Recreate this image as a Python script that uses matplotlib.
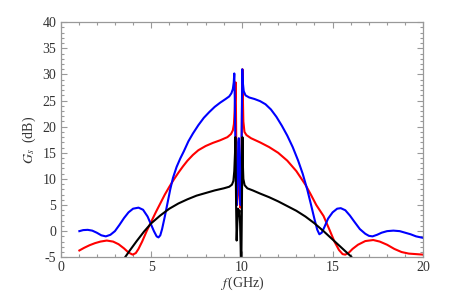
import matplotlib
matplotlib.use('Agg')
import matplotlib.pyplot as plt
from matplotlib.ticker import MultipleLocator

# Signal gain G_s (dB) vs frequency f (GHz), three pump settings
f_blue = [1.04, 1.25, 1.5, 1.75, 2.0, 2.25, 2.5, 2.75, 3.0, 3.25, 3.5, 3.75, 4.0, 4.3,
          4.55, 4.8, 5.0, 5.15, 5.3, 5.4, 5.5, 5.6, 5.75, 5.9, 6.05, 6.2, 6.4, 6.6,
          6.8, 7.05, 7.3, 7.6, 7.9, 8.2, 8.5, 8.8, 9.1, 9.3, 9.42, 9.5, 9.55, 9.58,
          9.61, 9.65, 9.69, 9.72, 9.76, 9.8, 9.83, 9.86, 9.89, 9.93, 9.96, 9.99,
          10.02, 10.05, 10.1, 10.2, 10.4, 10.7, 11.0, 11.3, 11.6, 11.9, 12.2, 12.5,
          12.8, 13.1, 13.35, 13.6, 13.8, 14.0, 14.15, 14.27, 14.4, 14.55, 14.75,
          15.0, 15.25, 15.45, 15.7, 15.95, 16.2, 16.5, 16.8, 17.0, 17.2, 17.45,
          17.7, 18.0, 18.35, 18.7, 19.0, 19.3, 19.6, 20.0]
g_blue = [0.0, 0.2, 0.25, 0.1, -0.3, -0.8, -1.0, -0.7, 0.0, 1.2, 2.5, 3.6, 4.3, 4.5,
          4.1, 2.8, 1.2, 0.0, -1.0, -1.2, -0.8, 0.4, 2.8, 5.4, 8.0, 10.2, 12.3, 13.9,
          15.3, 17.2, 18.7, 20.3, 21.7, 22.8, 23.8, 24.6, 25.3, 25.8, 26.4, 27.2, 28.5, 30.2,
          25.0, 14.0, 6.0, 5.0, 10.0, 17.0, 17.8, 14.0, 7.0, 5.0, 9.0, 20.0,
          31.0, 28.5, 26.8, 26.0, 25.6, 25.3, 24.9, 24.3, 23.3, 21.9, 20.2, 18.3,
          16.1, 13.5, 11.0, 8.0, 5.2, 2.3, 0.3, -0.6, -0.3, 0.8, 2.4,
          3.6, 4.3, 4.4, 4.0, 3.0, 1.8, 0.4, -0.5, -0.9, -1.0, -0.7,
          -0.3, 0.0, 0.1, 0.0, -0.3, -0.6, -1.0, -1.3]

f_red = [1.04, 1.3, 1.6, 1.9, 2.2, 2.55, 2.9, 3.2, 3.5, 3.75, 3.98, 4.15, 4.3, 4.5,
         4.75, 5.0, 5.25, 5.5, 5.75, 6.0, 6.25, 6.5, 6.75, 7.0, 7.3, 7.6, 8.0, 8.4,
         8.8, 9.2, 9.4, 9.5, 9.56, 9.6, 9.63, 9.65, 9.67, 9.7, 9.73, 9.77, 9.82,
         9.87, 9.91, 9.95, 9.98, 10.0, 10.03, 10.05, 10.08, 10.14, 10.25, 10.5,
         11.0, 11.5, 12.0, 12.5, 13.0, 13.5, 13.8, 14.1, 14.5, 14.86, 15.1, 15.35,
         15.55, 15.7, 15.9, 16.1, 16.4, 16.8, 17.24, 17.6, 18.0, 18.4, 18.8, 19.2,
         19.6, 20.0]
g_red = [-3.7, -3.2, -2.7, -2.3, -2.0, -1.8, -2.0, -2.5, -3.3, -4.1, -4.5, -4.2, -3.4, -2.0,
         0.0, 1.8, 3.6, 5.3, 7.0, 8.5, 9.9, 11.2, 12.4, 13.5, 14.6, 15.5, 16.3, 16.9,
         17.4, 18.0, 18.6, 19.3, 20.5, 23.0, 26.0, 28.5, 24.0, 12.0, 5.0, 7.0, 11.5,
         8.0, 4.5, 5.0, 12.0, 22.0, 31.0, 26.0, 21.0, 19.0, 18.4, 17.8,
         17.0, 16.1, 15.0, 13.5, 11.5, 8.9, 7.0, 5.0, 2.9, 0.0, -2.0, -3.6,
         -4.4, -4.5, -4.1, -3.4, -2.6, -1.9, -1.7, -2.0, -2.6, -3.4, -4.0, -4.3,
         -4.4, -4.5]

f_black = [3.4, 3.56, 3.8, 4.2, 4.6, 5.0, 5.5, 6.0, 6.5, 7.0, 7.5, 8.0, 8.5, 9.0, 9.3, 9.45,
           9.53, 9.58, 9.62, 9.64, 9.66, 9.68, 9.71, 9.74, 9.78, 9.82, 9.86, 9.9,
           9.93, 9.96, 10.0, 10.03, 10.05, 10.08, 10.15, 10.3, 10.6, 11.0, 11.5,
           12.0, 12.5, 13.0, 13.5, 14.0, 14.5, 15.0, 15.5, 16.0, 16.2]
g_black = [-5.8, -5.0, -3.8, -1.9, -0.1, 1.5, 3.0, 4.3, 5.3, 6.1, 6.8, 7.3, 7.8, 8.2, 8.5, 8.9,
           9.6, 11.5, 15.0, 18.0, 12.0, 5.0, -1.8, 1.0, 4.3, 3.0, 4.0, 1.5,
           -3.0, -9.0, 5.0, 18.0, 13.0, 10.0, 8.8, 8.2, 7.8, 7.2, 6.5,
           5.7, 4.8, 3.9, 2.8, 1.5, 0.0, -1.6, -3.2, -4.8, -5.6]

x_ticks = [0, 5, 10, 15, 20]
y_ticks = [-5, 0, 5, 10, 15, 20, 25, 30, 35, 40]

plt.rcParams['font.family'] = ['Liberation Serif', 'DejaVu Serif']
plt.rcParams['mathtext.fontset'] = 'stix'
plt.rcParams['axes.unicode_minus'] = False

fig = plt.figure(figsize=(4.69, 2.93), dpi=100)
ax = fig.add_axes([0.129, 0.122, 0.7736, 0.802])

ax.plot(f_red, g_red, color='#ff0000', lw=1.5)
ax.plot(f_blue, g_blue, color='#0000ff', lw=1.5)
ax.plot(f_black, g_black, color='#000000', lw=1.5)

ax.set_xlim(0, 20)
ax.set_ylim(-5, 40)
ax.set_xticks(x_ticks)
ax.set_yticks(y_ticks)
ax.xaxis.set_minor_locator(MultipleLocator(1))
ax.yaxis.set_minor_locator(MultipleLocator(1))

frame = '#999999'
for sp in ax.spines.values():
    sp.set_color(frame)
    sp.set_linewidth(0.9)
ax.tick_params(which='both', direction='in', top=True, right=True, color=frame,
               labelsize=10, labelcolor='#333333', width=0.8)
ax.tick_params(which='major', length=4, pad=3)
ax.tick_params(which='minor', length=2)

ax.set_xlabel('$f\\,$(GHz)', fontsize=10, color='#333333', labelpad=0)
ax.set_ylabel('$G_s$  (dB)', fontsize=10, color='#333333', labelpad=3)

fig.savefig('out.png', dpi=100)
